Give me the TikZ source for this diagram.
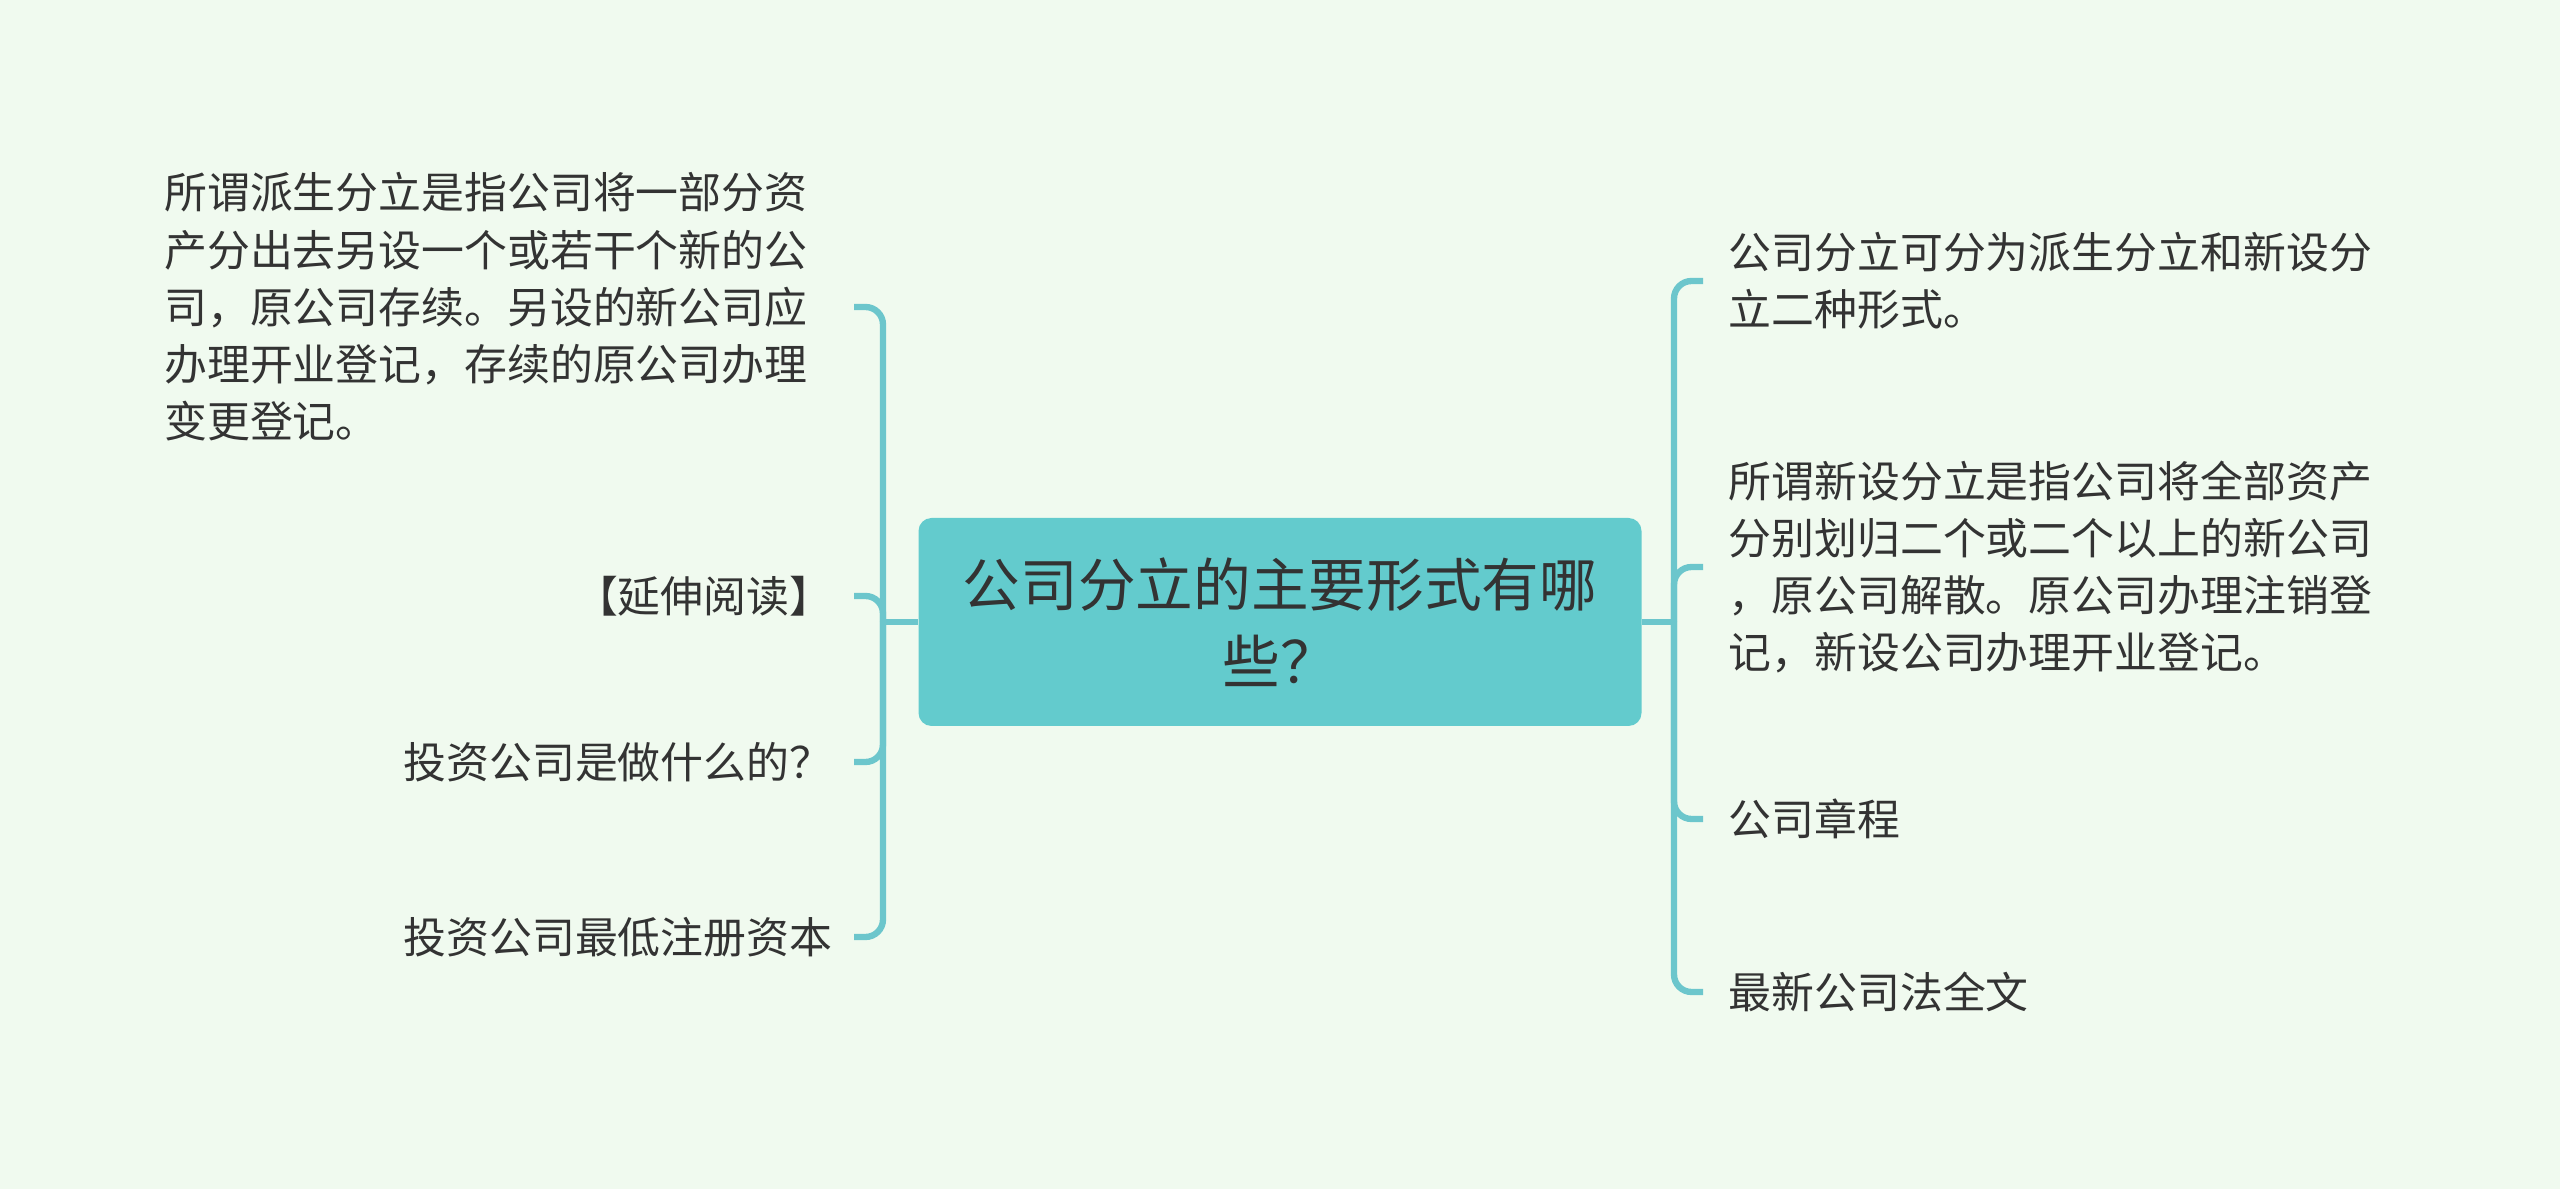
\documentclass[tikz,border=0pt]{standalone}
\usepackage{fontspec}
\setmainfont{Noto Sans CJK SC}
\usepackage{tikz}
\usetikzlibrary{positioning}
\definecolor{bgmint}{RGB}{240,250,239}
\definecolor{rootfill}{RGB}{99,203,205}
\definecolor{branchcol}{RGB}{108,198,204}
\definecolor{inkgray}{RGB}{51,51,51}
\tikzset{
    root/.style={rectangle, fill=rootfill, rounded corners=0.13cm, minimum width=7.23cm, minimum height=2.08cm, align=center, text=inkgray, font=\fontsize{16.4}{21.8}\selectfont},
    leaf/.style={rectangle, inner sep=0pt, text=inkgray, align=left, font=\fontsize{12.2}{16.3}\selectfont},
    branch/.style={draw=branchcol, line width=1.8pt, rounded corners=5pt}
}

\begin{document}
\begin{tikzpicture}

% Canvas
\fill[bgmint] (0,0) rectangle (25.6,11.89);
\useasboundingbox (0,0) rectangle (25.6,11.89);

% Root
\node[root] (root) at (12.80,5.67) {公司分立的主要形式有哪\\些？};
\coordinate (lspine) at (8.83,5.67);
\coordinate (rspine) at (16.74,5.67);

% Left leaves
\node[leaf, anchor=east, text width=6.68cm] (l1) at (8.33,8.82) {所谓派生分立是指公司将一部分资\\产分出去另设一个或若干个新的公\\司，原公司存续。另设的新公司应\\办理开业登记，存续的原公司办理\\变更登记。};
\node[leaf, anchor=east] (l2) at (8.33,5.93) {【延伸阅读】};
\node[leaf, anchor=east] (l3) at (8.33,4.27) {投资公司是做什么的？};
\node[leaf, anchor=east] (l4) at (8.33,2.52) {投资公司最低注册资本};

% Right leaves
\node[leaf, anchor=west, text width=6.6cm] (r1) at (17.28,9.08) {公司分立可分为派生分立和新设分\\立二种形式。};
\node[leaf, anchor=west, text width=6.6cm] (r2) at (17.28,6.22) {所谓新设分立是指公司将全部资产\\分别划归二个或二个以上的新公司\\，原公司解散。原公司办理注销登\\记，新设公司办理开业登记。};
\node[leaf, anchor=west] (r3) at (17.28,3.70) {公司章程};
\node[leaf, anchor=west] (r4) at (17.28,1.97) {最新公司法全文};

% Branches
\draw[branch] (root.west) -- (lspine);
\draw[branch] (root.east) -- (rspine);
\foreach \leafname in {l1,l2,l3,l4}
    \draw[branch] (lspine) |- ([xshift=2.1mm]\leafname.east);
\foreach \leafname in {r1,r2,r3,r4}
    \draw[branch] (rspine) |- ([xshift=-2.5mm]\leafname.west);

\end{tikzpicture}
\end{document}
